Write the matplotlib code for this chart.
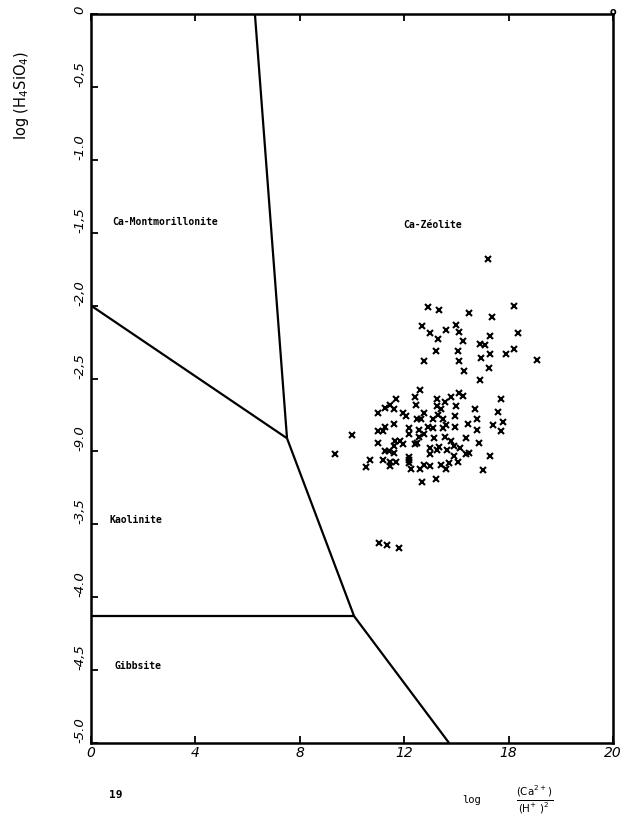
import matplotlib
matplotlib.use("Agg")
import matplotlib.pyplot as plt
from matplotlib.lines import Line2D

# ---- data ----
sample_x = [15.2, 12.9, 13.35, 14.5, 16.2, 15.35, 12.7, 14.0, 13.0, 13.6, 14.1, 16.35, 13.3, 15.3,
            14.25, 14.9, 15.1, 13.2, 14.05, 15.3, 15.9, 16.2, 12.75, 14.1, 14.95, 17.1, 14.3, 15.25,
            14.9, 12.6, 12.4, 14.1, 14.25, 13.8, 13.25, 15.7, 11.7, 12.45, 11.25, 11.45, 11.6, 11.0,
            11.95, 12.05, 12.75, 13.25, 13.4, 13.55, 14.0, 13.95, 14.7, 15.6, 15.8, 15.4, 15.7, 14.8,
            14.8, 14.45, 13.95, 12.5, 12.65, 13.1, 13.3, 13.5, 13.6, 12.9, 13.1, 12.55, 12.2, 12.2,
            11.6, 11.25, 11.0, 11.2, 13.5, 10.0, 12.75, 13.15, 13.55, 12.55, 12.5, 12.4, 14.35, 14.85,
            11.0, 11.65, 11.85, 11.95, 11.6, 13.8, 13.9, 13.0, 13.25, 13.35, 13.65, 14.15, 11.6, 11.4,
            11.25, 12.2, 12.2, 13.0, 13.9, 14.35, 14.5, 15.3, 9.35, 10.7, 11.2, 11.45, 11.7, 12.2,
            10.55, 11.45, 12.25, 12.6, 12.75, 13.0, 13.4, 13.7, 14.05, 13.6, 15.0, 12.7, 13.2,
            11.05, 11.35, 11.8]
sample_y = [-1.68, -2.01, -2.03, -2.05, -2.00, -2.08, -2.14, -2.13, -2.19, -2.17, -2.18, -2.19, -2.23, -2.21,
            -2.24, -2.26, -2.27, -2.31, -2.31, -2.33, -2.33, -2.30, -2.38, -2.38, -2.36, -2.37, -2.45, -2.43,
            -2.51, -2.58, -2.63, -2.60, -2.62, -2.63, -2.64, -2.64, -2.64, -2.68, -2.70, -2.68, -2.71, -2.74,
            -2.74, -2.76, -2.74, -2.69, -2.71, -2.66, -2.69, -2.76, -2.71, -2.73, -2.80, -2.82, -2.86, -2.78,
            -2.85, -2.81, -2.83, -2.78, -2.78, -2.78, -2.75, -2.78, -2.82, -2.83, -2.84, -2.85, -2.84, -2.88,
            -2.81, -2.83, -2.86, -2.86, -2.84, -2.89, -2.88, -2.91, -2.90, -2.90, -2.94, -2.95, -2.91, -2.94,
            -2.94, -2.93, -2.93, -2.95, -2.96, -2.93, -2.96, -2.98, -2.99, -2.97, -2.99, -2.98, -3.01, -3.00,
            -3.00, -3.04, -3.06, -3.02, -3.03, -3.02, -3.01, -3.03, -3.02, -3.06, -3.06, -3.07, -3.07, -3.08,
            -3.11, -3.10, -3.12, -3.12, -3.09, -3.10, -3.09, -3.08, -3.07, -3.12, -3.13, -3.21, -3.19,
            -3.63, -3.64, -3.66]

# stability field boundaries (x, y) pairs
bound_mont_zeol = ([6.28, 7.51], [0.0, -2.91])
bound_mont_kaol = ([0.0, 7.51], [-2.0, -2.91])
bound_kaol_zeol = ([7.51, 10.08], [-2.91, -4.13])
bound_kaol_gibb = ([0.0, 10.08], [-4.13, -4.13])
bound_gibb_zeol = ([10.08, 13.72], [-4.13, -5.0])

field_names = ["Ca-Montmorillonite", "Ca-Zéolite", "Kaolinite", "Gibbsite"]
field_x = [2.84, 13.07, 1.72, 1.80]
field_y = [-1.43, -1.45, -3.47, -4.47]

x_ticks = [0, 4, 8, 12, 16, 20]
x_tick_labels = ["0", "4", "8", "12", "18", "20"]
y_ticks = [0, -0.5, -1.0, -1.5, -2.0, -2.5, -3.0, -3.5, -4.0, -4.5, -5.0]
y_tick_labels = ["0", "-0,5", "-1.0", "-1,5", "-2,0", "-2,5", "-9.0", "-3,5", "-4.0", "-4,5", "-5.0"]

# ---- figure ----
fig = plt.figure(figsize=(6.21, 8.21), dpi=100)
ax = fig.add_axes([91/621, 78/821, 522/621, 729/821])
ax.set_xlim(0, 20)
ax.set_ylim(-5, 0)

for s in ax.spines.values():
    s.set_linewidth(1.8)

for xs, ys in [bound_mont_zeol, bound_mont_kaol, bound_kaol_zeol, bound_kaol_gibb, bound_gibb_zeol]:
    ax.plot(xs, ys, color="black", lw=1.6, solid_capstyle="butt")

ax.plot(sample_x, sample_y, linestyle="none", marker="x", color="black",
        markersize=4.2, markeredgewidth=1.5)

mono = "DejaVu Sans Mono"
for name, fx, fy in zip(field_names, field_x, field_y):
    ax.text(fx, fy, name, ha="center", va="center", fontsize=7, family=mono,
            fontweight="bold")

ax.set_xticks(x_ticks)
ax.set_xticklabels(x_tick_labels, fontsize=10, style="italic")
ax.set_yticks(y_ticks)
ax.set_yticklabels(y_tick_labels, fontsize=9.5, style="italic", rotation=90,
                   va="bottom", ha="right")
ax.tick_params(axis="both", direction="in", length=5, width=1.3, top=True,
               right=False, pad=3)
ax.tick_params(axis="x", pad=2)
for lab in ax.get_xticklabels():
    lab.set_va("top")

fig.text(22/621, 1 - 95/821, r"log (H$_4$SiO$_4$)", rotation=90, ha="center",
         va="center", fontsize=10.5)
fig.text(613/621, 1 - 12/821, "o", ha="center", va="center", fontsize=7,
         fontweight="bold")
fig.text(116/621, 1 - 795/821, "19", ha="center", va="center", fontsize=8,
         family=mono, fontweight="bold")
fig.text(472/621, 1 - 800/821, "log", ha="center", va="center", fontsize=7.5,
         family=mono)
fig.text(535/621, 1 - 800/821,
         r"$\frac{(\mathrm{Ca}^{2+})}{(\mathrm{H}^{+}\ )^{2}}$",
         ha="center", va="center", fontsize=10.5)

fig.savefig("out.png", dpi=100)
